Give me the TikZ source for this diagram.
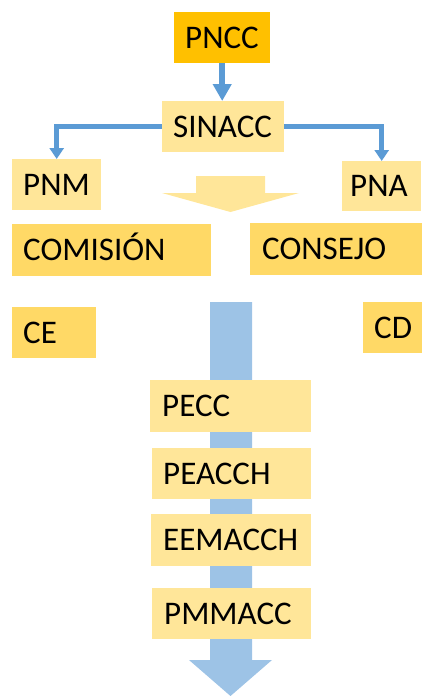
\documentclass[tikz,border=0pt]{standalone}
\usepackage{fontspec}
\setmainfont{Carlito}
\usetikzlibrary{arrows.meta}
\definecolor{cOrange}{HTML}{FFC000}
\definecolor{cLight}{HTML}{FFE699}
\definecolor{cMid}{HTML}{FFD966}
\definecolor{cBlue}{HTML}{9DC3E6}
\definecolor{cLine}{HTML}{5B9BD5}
\newcommand\lboxtxt[2]{\makebox[#1][l]{#2}}
\begin{document}
\begin{tikzpicture}[x=1pt,y=-1pt,
  box/.style={anchor=north west, inner ysep=0pt,
    font=\fontsize{33}{33}\selectfont, text height=20.8pt, text depth=0pt},
  conn/.style={draw=cLine, line width=4.5pt, line join=miter,
    -{Triangle[width=14pt,length=11pt]}},
  bigconn/.style={draw=cLine, line width=6.5pt,
    -{Triangle[width=18pt,length=17pt]}},
  flow/.style={fill=cBlue},
  hint/.style={fill=cLight}
]
\useasboundingbox (0,0) rectangle (422,696);

% blue process arrow (behind boxes)
\fill[flow] (210,302) -- (252,302) -- (252,660) -- (272,660) -- (230.5,696)
  -- (189,660) -- (210,660) -- cycle;

% boxes
\node[box, fill=cOrange, minimum width=96pt, minimum height=51pt, inner xsep=11pt] (pncc) at (174,12) {\lboxtxt{74pt}{PNCC}};
\node[box, fill=cLight, minimum width=122pt, minimum height=51pt, inner xsep=11pt] (sinacc) at (162,101) {\lboxtxt{100pt}{SINACC}};
\node[box, fill=cLight, minimum width=89pt, minimum height=51pt, inner xsep=11pt] (pnm) at (12,159) {\lboxtxt{67pt}{PNM}};
\node[box, fill=cLight, minimum width=79pt, minimum height=50pt, inner xsep=8pt] (pna) at (342,161) {\lboxtxt{63pt}{PNA}};
\node[box, fill=cMid, minimum width=199pt, minimum height=52pt, inner xsep=11pt] (comision) at (12,224) {\lboxtxt{177pt}{COMISIÓN}};
\node[box, fill=cMid, minimum width=172pt, minimum height=52pt, inner xsep=12pt] (consejo) at (250,223) {\lboxtxt{148pt}{CONSEJO}};
\node[box, fill=cMid, minimum width=84pt, minimum height=51pt, inner xsep=11pt] (ce) at (12,307) {\lboxtxt{62pt}{CE}};
\node[box, fill=cMid, minimum width=59pt, minimum height=51pt, inner xsep=11pt] (cd) at (363,302) {\lboxtxt{37pt}{CD}};
\node[box, fill=cLight, minimum width=161pt, minimum height=52pt, inner xsep=12pt] (pecc) at (150,380) {\lboxtxt{137pt}{PECC}};
\node[box, fill=cLight, minimum width=159pt, minimum height=51pt, inner xsep=11pt] (peacch) at (152,448) {\lboxtxt{137pt}{PEACCH}};
\node[box, fill=cLight, minimum width=160pt, minimum height=52pt, inner xsep=12pt] (eemacch) at (151,514) {\lboxtxt{136pt}{EEMACCH}};
\node[box, fill=cLight, minimum width=159pt, minimum height=51pt, inner xsep=12pt] (pmmacc) at (152,588) {\lboxtxt{135pt}{PMMACC}};

% yellow hint arrow
\fill[hint] (196,176) -- (265,176) -- (265,193) -- (299,193) -- (230.5,212)
  -- (162,193) -- (196,193) -- cycle;

% connectors
\draw[bigconn] (pncc.south) -- (pncc.south |- sinacc.north);
\draw[conn] (sinacc.west) -| (pnm.north);
\draw[conn] (sinacc.east) -| (pna.north);
\end{tikzpicture}
\end{document}
